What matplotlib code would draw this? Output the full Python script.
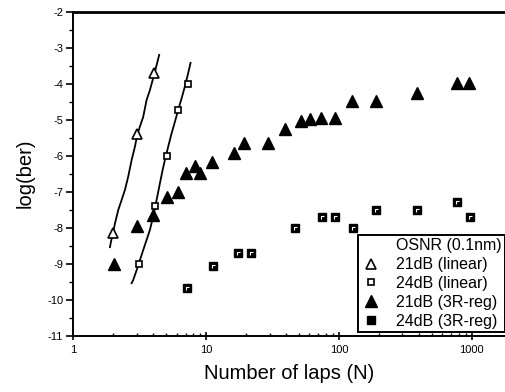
import matplotlib
matplotlib.use("Agg")
import matplotlib.pyplot as plt
from matplotlib.path import Path
from matplotlib.lines import Line2D
from matplotlib.ticker import LogLocator, NullFormatter, FixedLocator

plt.rcParams['font.family'] = ['Liberation Sans', 'DejaVu Sans']

# 21dB (linear) - open triangles
lin21_n = [2.0, 3.03, 4.04]
lin21_y = [-8.15, -5.4, -3.7]
# 24dB (linear) - open squares
lin24_n = [3.1, 4.1, 5.1, 6.15, 7.25]
lin24_y = [-9.0, -7.4, -6.0, -4.72, -4.02]
# 21dB (3R-reg) - filled triangles
reg21_n = [2.02, 3.03, 4.0, 5.09, 6.16, 7.1, 8.22, 8.97, 11.1, 16.2, 19.2,
           29.3, 39.5, 51.5, 60.6, 73.8, 93.3, 125, 189, 386, 771, 961]
reg21_y = [-9.0, -7.94, -7.65, -7.16, -7.0, -6.49, -6.28, -6.49, -6.17, -5.93, -5.66,
           -5.66, -5.26, -5.04, -4.98, -4.96, -4.96, -4.48, -4.48, -4.27, -3.99, -3.99]
# 24dB (3R-reg) - filled squares
reg24_n = [7.2, 11.3, 17.3, 21.6, 46.4, 74.5, 94, 127, 191, 386, 777, 973]
reg24_y = [-9.68, -9.06, -8.71, -8.71, -8.02, -7.71, -7.71, -8.02, -7.51, -7.51, -7.28, -7.71]

# fitted curves
fit21_n = [1.888, 1.921, 2.0, 2.059, 2.179, 2.311, 2.447, 2.591, 2.749, 2.91, 3.028,
           3.173, 3.36, 3.563, 3.773, 4.115, 4.432]
fit21_y = [-8.54, -8.39, -8.11, -7.88, -7.51, -7.23, -6.95, -6.58, -6.12, -5.75, -5.43,
           -5.19, -4.92, -4.45, -4.18, -3.67, -3.2]
fit24_n = [2.749, 2.826, 2.997, 3.173, 3.36, 3.563, 3.773, 3.996, 4.238, 4.486, 4.702,
           4.892, 5.18, 5.494, 5.817, 6.16, 6.531, 6.917, 7.322, 7.633]
fit24_y = [-9.54, -9.45, -9.18, -8.9, -8.62, -8.34, -8.06, -7.69, -7.23, -6.77, -6.4,
           -6.12, -5.75, -5.38, -5.06, -4.73, -4.41, -4.08, -3.71, -3.42]

y_ticks = [-11, -10, -9, -8, -7, -6, -5, -4, -3, -2]
x_ticks = [1, 10, 100, 1000]
legend_title = "OSNR (0.1nm)"
labels = ["21dB (linear)", "24dB (linear)", "21dB (3R-reg)", "24dB (3R-reg)"]

W, H = 505, 392
fig = plt.figure(figsize=(W / 100, H / 100), dpi=100)
ax = fig.add_axes([73.3 / W, 1 - 335.7 / H, 1 - 73.3 / W, (335.7 - 11.7) / H])

ax.set_xscale('log')
ax.set_xlim(1, 10 ** 3.25)
ax.set_ylim(-11, -2)

ax.plot(fit21_n, fit21_y, color='black', lw=1.3, zorder=2)
ax.plot(fit24_n, fit24_y, color='black', lw=1.3, zorder=2)

ax.plot(lin21_n, lin21_y, ls='none', marker='^', ms=6.5, mfc='white', mec='black', mew=1.2, zorder=3)
ax.plot(lin24_n, lin24_y, ls='none', marker='s', ms=5, mfc='white', mec='black', mew=1.2, zorder=3)
ax.plot(reg21_n, reg21_y, ls='none', marker='^', ms=8.5, mfc='black', mec='black', zorder=3)
ax.plot(reg24_n, reg24_y, ls='none', marker='s', ms=5.5, mfc='black', mec='black', zorder=3)
corner = Path([(-0.25, -0.5), (-0.25, 0.3), (0.5, 0.3)], [Path.MOVETO, Path.LINETO, Path.LINETO])
ax.plot(reg24_n, reg24_y, ls='none', marker=corner, ms=3.5, mfc='none', mec='white', mew=0.8, zorder=4)

# spines
ax.spines['right'].set_visible(False)
ax.spines['top'].set_linewidth(2.0)
ax.spines['left'].set_linewidth(1.4)
ax.spines['bottom'].set_linewidth(1.4)

ax.yaxis.set_major_locator(FixedLocator(y_ticks))
ax.yaxis.set_minor_locator(FixedLocator([v + 0.5 for v in y_ticks[:-1]]))
ax.set_yticklabels([str(v) for v in y_ticks])
ax.xaxis.set_major_locator(FixedLocator(x_ticks))
ax.set_xticklabels([str(v) for v in x_ticks])
ax.xaxis.set_minor_locator(LogLocator(base=10, subs=range(2, 10), numticks=20))
ax.xaxis.set_minor_formatter(NullFormatter())

ax.tick_params(axis='y', which='major', direction='out', length=4.8, width=1.2, labelsize=8, pad=2.4)
ax.tick_params(axis='y', which='minor', direction='out', length=3, width=1.0)
ax.tick_params(axis='x', which='major', direction='inout', length=6, width=1.2, labelsize=8, pad=4)
ax.tick_params(axis='x', which='minor', direction='in', length=2.5, width=1.0)

ax.set_xlabel("Number of laps (N)", fontsize=14.5, labelpad=6)
ax.set_ylabel("log(ber)", fontsize=14.5, labelpad=9)

handles = [
    Line2D([], [], ls='none', marker=None),
    Line2D([], [], ls='none', marker='^', ms=6.5, mfc='white', mec='black', mew=1.2),
    Line2D([], [], ls='none', marker='s', ms=5, mfc='white', mec='black', mew=1.2),
    Line2D([], [], ls='none', marker='^', ms=8.5, mfc='black', mec='black'),
    Line2D([], [], ls='none', marker='s', ms=5.5, mfc='black', mec='black'),
]
leg = ax.legend(handles, [legend_title] + labels, loc='lower right',
                bbox_to_anchor=(1.0, 0.012), fontsize=11.5, frameon=True, fancybox=False,
                edgecolor='black', framealpha=1, borderpad=0.2, labelspacing=0.24,
                handlelength=1.3, handletextpad=0.9, borderaxespad=0.0)
leg.get_frame().set_linewidth(1.4)

fig.savefig("out.png", dpi=100)
